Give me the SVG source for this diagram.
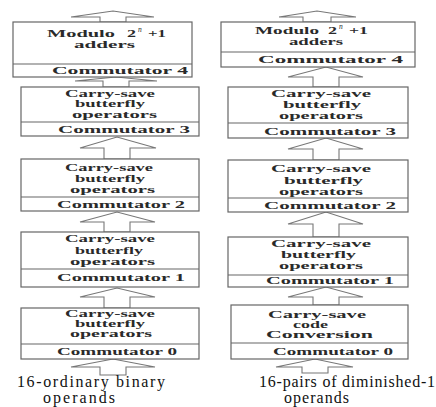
<svg xmlns="http://www.w3.org/2000/svg" width="436" height="407" viewBox="0 0 436 407">
<style>
.box{fill:#fff;stroke:#666;stroke-width:1.2}
.div{stroke:#666;stroke-width:1.2}
.arr{fill:#fff;stroke:#777;stroke-width:1.1;stroke-linejoin:miter}
.t{font-family:"Liberation Serif","Times New Roman",serif;font-size:10.5px;font-weight:bold;fill:#2a2a2a}
.sup{font-family:"Liberation Serif","Times New Roman",serif;font-size:7.5px;font-style:italic;fill:#2a2a2a}
.lbl{font-family:"Liberation Serif","Times New Roman",serif;font-size:16px;fill:#111}
</style>
<rect width="436" height="407" fill="#fff"/>
<g id="connectors">
<polygon class="arr" points="100,22 100,17 71,17 113,11 154,17 126,17 126,22"/>
<polygon class="arr" points="103,87 103,81 75,81 116,77 157,81 129,81 129,87"/>
<polygon class="arr" points="104,159 104,148 80,148 117,137 156,148 130,148 130,159"/>
<polygon class="arr" points="104,232 104,222 80,222 117,212 155,222 130,222 130,232"/>
<polygon class="arr" points="104,308 104,297 80,297 117,288 155,297 130,297 130,308"/>
<polygon class="arr" points="100,375 100,367 71,367 113,359 155,367 126,367 126,375"/>
<polygon class="arr" points="303,22 303,17 279,17 317,11 356,17 331,17 331,22"/>
<polygon class="arr" points="313,87 313,77 288,77 326,67 363,77 339,77 339,87"/>
<polygon class="arr" points="313,160 313,149 288,149 326,138 363,149 339,149 339,160"/>
<polygon class="arr" points="313,237 313,224 288,224 326,212 363,224 339,224 339,237"/>
<polygon class="arr" points="313,305 313,297 288,297 326,287 363,297 339,297 339,305"/>
<polygon class="arr" points="302,373 302,367 276,367 315,359 353,367 328,367 328,373"/>
</g>
<g id="L1">
<rect class="box" x="13" y="22" width="179" height="55"/>
<line class="div" x1="13" y1="64" x2="192" y2="64"/>
<text class="t" x="47" y="37" textLength="68" lengthAdjust="spacingAndGlyphs">Modulo</text>
<text class="t" x="127" y="37" textLength="9" lengthAdjust="spacingAndGlyphs">2</text>
<text class="sup" x="138" y="32">n</text>
<text class="t" x="148" y="37" textLength="18" lengthAdjust="spacingAndGlyphs">+1</text>
<text class="t" x="74" y="48" textLength="61" lengthAdjust="spacingAndGlyphs">adders</text>
<text class="t" x="52" y="74" textLength="136" lengthAdjust="spacingAndGlyphs">Commutator 4</text>
</g>
<g id="L2">
<rect class="box" x="21" y="87" width="178" height="49"/>
<line class="div" x1="21" y1="122" x2="199" y2="122"/>
<text class="t" x="65" y="97" textLength="90" lengthAdjust="spacingAndGlyphs">Carry-save</text>
<text class="t" x="75" y="107" textLength="70" lengthAdjust="spacingAndGlyphs">butterfly</text>
<text class="t" x="72" y="118" textLength="85" lengthAdjust="spacingAndGlyphs">operators</text>
<text class="t" x="58" y="133" textLength="132" lengthAdjust="spacingAndGlyphs">Commutator 3</text>
</g>
<g id="L3">
<rect class="box" x="21" y="159" width="178" height="52"/>
<line class="div" x1="21" y1="197" x2="199" y2="197"/>
<text class="t" x="65" y="171" textLength="88" lengthAdjust="spacingAndGlyphs">Carry-save</text>
<text class="t" x="75" y="182" textLength="70" lengthAdjust="spacingAndGlyphs">butterfly</text>
<text class="t" x="70" y="193" textLength="85" lengthAdjust="spacingAndGlyphs">operators</text>
<text class="t" x="57" y="208" textLength="128" lengthAdjust="spacingAndGlyphs">Commutator 2</text>
</g>
<g id="L4">
<rect class="box" x="21" y="232" width="178" height="55"/>
<line class="div" x1="21" y1="269" x2="199" y2="269"/>
<text class="t" x="65" y="242" textLength="90" lengthAdjust="spacingAndGlyphs">Carry-save</text>
<text class="t" x="75" y="254" textLength="68" lengthAdjust="spacingAndGlyphs">butterfly</text>
<text class="t" x="70" y="265" textLength="85" lengthAdjust="spacingAndGlyphs">operators</text>
<text class="t" x="57" y="281" textLength="128" lengthAdjust="spacingAndGlyphs">Commutator 1</text>
</g>
<g id="L5">
<rect class="box" x="21" y="308" width="178" height="51"/>
<line class="div" x1="21" y1="344" x2="199" y2="344"/>
<text class="t" x="65" y="317" textLength="90" lengthAdjust="spacingAndGlyphs">Carry-save</text>
<text class="t" x="75" y="327" textLength="70" lengthAdjust="spacingAndGlyphs">butterfly</text>
<text class="t" x="70" y="337" textLength="82" lengthAdjust="spacingAndGlyphs">operators</text>
<text class="t" x="57" y="355" textLength="120" lengthAdjust="spacingAndGlyphs">Commutator 0</text>
</g>
<g id="R1">
<rect class="box" x="221" y="22" width="194" height="45"/>
<line class="div" x1="221" y1="52" x2="415" y2="52"/>
<text class="t" x="255" y="34" textLength="64" lengthAdjust="spacingAndGlyphs">Modulo</text>
<text class="t" x="328" y="34" textLength="9" lengthAdjust="spacingAndGlyphs">2</text>
<text class="sup" x="339" y="29">n</text>
<text class="t" x="349" y="34" textLength="19" lengthAdjust="spacingAndGlyphs">+1</text>
<text class="t" x="289" y="45" textLength="54" lengthAdjust="spacingAndGlyphs">adders</text>
<text class="t" x="258" y="63" textLength="145" lengthAdjust="spacingAndGlyphs">Commutator 4</text>
</g>
<g id="R2">
<rect class="box" x="228" y="87" width="180" height="51"/>
<line class="div" x1="228" y1="123" x2="408" y2="123"/>
<text class="t" x="271" y="97" textLength="100" lengthAdjust="spacingAndGlyphs">Carry-save</text>
<text class="t" x="283" y="108" textLength="78" lengthAdjust="spacingAndGlyphs">butterfly</text>
<text class="t" x="279" y="119" textLength="84" lengthAdjust="spacingAndGlyphs">operators</text>
<text class="t" x="264" y="135" textLength="132" lengthAdjust="spacingAndGlyphs">Commutator 3</text>
</g>
<g id="R3">
<rect class="box" x="228" y="160" width="180" height="52"/>
<line class="div" x1="228" y1="198" x2="408" y2="198"/>
<text class="t" x="271" y="172" textLength="100" lengthAdjust="spacingAndGlyphs">Carry-save</text>
<text class="t" x="284" y="184" textLength="79" lengthAdjust="spacingAndGlyphs">butterfly</text>
<text class="t" x="279" y="195" textLength="84" lengthAdjust="spacingAndGlyphs">operators</text>
<text class="t" x="264" y="209" textLength="132" lengthAdjust="spacingAndGlyphs">Commutator 2</text>
</g>
<g id="R4">
<rect class="box" x="228" y="237" width="180" height="50"/>
<line class="div" x1="228" y1="275" x2="408" y2="275"/>
<text class="t" x="271" y="247" textLength="100" lengthAdjust="spacingAndGlyphs">Carry-save</text>
<text class="t" x="281" y="258" textLength="75" lengthAdjust="spacingAndGlyphs">butterfly</text>
<text class="t" x="279" y="269" textLength="84" lengthAdjust="spacingAndGlyphs">operators</text>
<text class="t" x="266" y="284" textLength="128" lengthAdjust="spacingAndGlyphs">Commutator 1</text>
</g>
<g id="R5">
<rect class="box" x="231" y="305" width="177" height="54"/>
<line class="div" x1="231" y1="343" x2="408" y2="343"/>
<text class="t" x="268" y="318" textLength="98" lengthAdjust="spacingAndGlyphs">Carry-save</text>
<text class="t" x="293" y="328" textLength="35" lengthAdjust="spacingAndGlyphs">code</text>
<text class="t" x="266" y="338" textLength="107" lengthAdjust="spacingAndGlyphs">Conversion</text>
<text class="t" x="273" y="355" textLength="120" lengthAdjust="spacingAndGlyphs">Commutator 0</text>
</g>
<g id="labels">
<text class="lbl" x="17" y="387" textLength="148" lengthAdjust="spacing">16-ordinary binary</text>
<text class="lbl" x="43" y="403" textLength="72" lengthAdjust="spacing">operands</text>
<text class="lbl" x="259" y="387" textLength="176" lengthAdjust="spacing">16-pairs of diminished-1</text>
<text class="lbl" x="284" y="403" textLength="65" lengthAdjust="spacing">operands</text>
</g>
</svg>
